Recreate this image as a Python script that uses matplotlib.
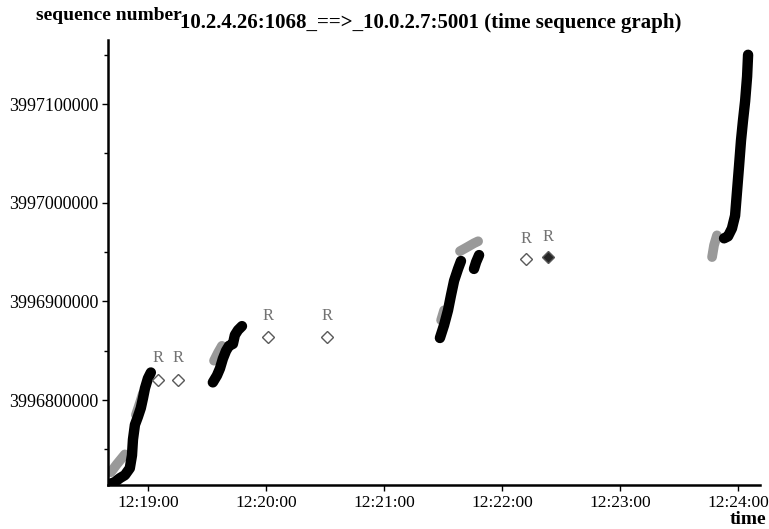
import matplotlib
matplotlib.use("Agg")
import matplotlib.pyplot as plt
from matplotlib.ticker import MultipleLocator

plt.rcParams['font.family'] = ['Liberation Serif', 'DejaVu Serif']

# time in seconds after 12:18:00, sequence numbers
seg1_t = [40.7, 43.2, 45.8, 48.3, 50.8, 51.9, 52.4, 53.4, 54.9, 56.4, 57.5, 58.5, 60.0, 61.5]
seg1_s = [3996715000, 3996717000, 3996721000, 3996724000, 3996731000, 3996744000, 3996760000,
          3996775000, 3996783000, 3996792000, 3996802000, 3996812000, 3996822000, 3996828000]
seg2_t = [93.0, 95.1, 96.6, 98.1, 99.7, 101.2, 103.2, 104.2, 105.8, 107.8]
seg2_s = [3996818000, 3996825000, 3996832000, 3996842000, 3996850000, 3996855000, 3996857000,
          3996866000, 3996871000, 3996875000]
seg3_t = [208.4, 210.5, 212.5, 214.0, 215.6, 217.6, 219.1]
seg3_s = [3996863000, 3996876000, 3996891000, 3996906000, 3996921000, 3996933000, 3996941000]
seg3b_t = [225.7, 226.8, 228.3]
seg3b_s = [3996933000, 3996940000, 3996947000]
seg4_t = [352.8, 354.8, 356.8, 358.4, 359.4, 360.4, 361.4, 362.4, 363.5, 364.5, 365.0]
seg4_s = [3996964000, 3996966000, 3996974000, 3996987000, 3997012000, 3997037000, 3997063000,
          3997083000, 3997103000, 3997128000, 3997150000]

# grey (retransmitted) patches
grey = [
    ([41.2, 44.2, 48.3], [3996727000, 3996735000, 3996745000]),
    ([53.9, 55.9, 57.5], [3996785000, 3996797000, 3996807000]),
    ([93.6, 95.6, 97.6], [3996840000, 3996848000, 3996855000]),
    ([209.0, 210.5], [3996881000, 3996891000]),
    ([218.6, 222.2, 225.7, 227.8], [3996951000, 3996955000, 3996959000, 3996961000]),
    ([346.7, 347.7, 349.2], [3996945000, 3996957000, 3996967000]),
]

# R marks and the diamonds under them
mark_t = [65.1, 75.3, 121.0, 151.0, 252.2, 263.4]
mark_s = [3996820000, 3996820000, 3996864000, 3996864000, 3996943000, 3996945000]
label_s = [3996843000, 3996843000, 3996885000, 3996885000, 3996963000, 3996965000]
mark_fill = ['white', 'white', 'white', 'white', 'white', '0.15']

yticks = [3996800000, 3996900000, 3997000000, 3997100000]
xticks = [60, 120, 180, 240, 300, 360]
xlabels = ['12:19:00', '12:20:00', '12:21:00', '12:22:00', '12:23:00', '12:24:00']

fig = plt.figure(figsize=(7.69, 5.29), dpi=100)
ax = fig.add_axes([0.1404, 0.0832, 0.848, 0.8412])

for t, s in grey:
    ax.plot(t, s, color='0.6', lw=7, solid_capstyle='round', zorder=2)
for t, s in [(seg1_t, seg1_s), (seg2_t, seg2_s), (seg3_t, seg3_s), (seg3b_t, seg3b_s), (seg4_t, seg4_s)]:
    ax.plot(t, s, color='black', lw=7.5, solid_capstyle='round', solid_joinstyle='round', zorder=3)

for t, s, ls, fc in zip(mark_t, mark_s, label_s, mark_fill):
    ax.plot(t, s, marker='D', ms=6.5, mfc=fc, mec='0.35', mew=1.0, zorder=4)
    ax.text(t, ls, 'R', color='0.45', fontsize=12, ha='center', va='center')

ax.set_xlim(39.7, 371.1)
ax.set_ylim(3996714000, 3997165000)
ax.set_xticks(xticks)
ax.set_xticklabels(xlabels)
ax.set_yticks(yticks)
ax.set_yticklabels([str(v) for v in yticks])
ax.yaxis.set_minor_locator(MultipleLocator(50000))

for side in ['top', 'right']:
    ax.spines[side].set_visible(False)
for side in ['left', 'bottom']:
    ax.spines[side].set_linewidth(1.8)
ax.tick_params(axis='y', labelsize=13, length=4, width=1, direction='out', pad=3)
ax.tick_params(axis='x', labelsize=12.5, length=4, width=1, direction='out', pad=3)
ax.tick_params(which='minor', length=3, width=1)

fig.text(36 / 769, 1 - 15 / 529, 'sequence number', fontsize=14, fontweight='bold', va='center')
fig.text(180 / 769, 1 - 23 / 529, '10.2.4.26:1068_==>_10.0.2.7:5001 (time sequence graph)',
         fontsize=15, fontweight='bold', va='center')
fig.text(766 / 769, 1 - 519 / 529, 'time', fontsize=14, fontweight='bold', ha='right', va='center')

fig.savefig('out.png', dpi=100)
